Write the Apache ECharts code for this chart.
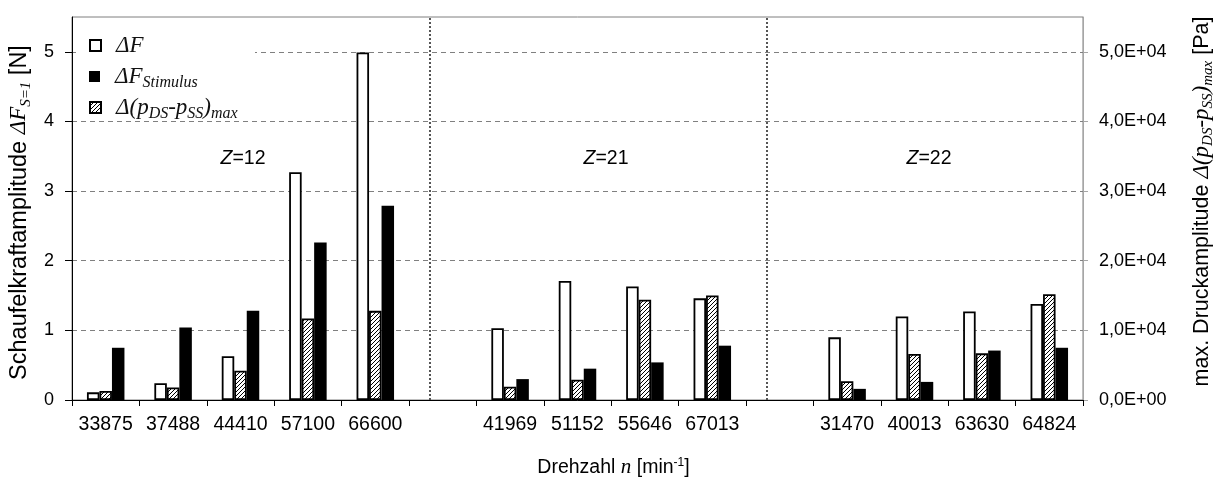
<!DOCTYPE html>
<html>
<head>
<meta charset="utf-8">
<script src="https://cdn.jsdelivr.net/npm/echarts@6/dist/echarts.min.js"></script>
<style>
html, body { margin: 0; padding: 0; background: #fff; }
#chart { width: 1218px; height: 481px; }
</style>
</head>
<body>
<div id="chart"></div>
<script>
// Rotor speeds n [min^-1] per blade count Z
const speedsZ12 = ['33875', '37488', '44410', '57100', '66600'];
const speedsZ21 = ['41969', '51152', '55646', '67013'];
const speedsZ22 = ['31470', '40013', '63630', '64824'];

// Blade force amplitude ΔF [N]
const forceZ12 = [0.11, 0.24, 0.63, 3.27, 4.99];
const forceZ21 = [1.03, 1.71, 1.63, 1.46];
const forceZ22 = [0.90, 1.20, 1.27, 1.38];

// Stimulus force amplitude ΔF_Stimulus [N]
const stimZ12 = [0.75, 1.04, 1.28, 2.26, 2.79];
const stimZ21 = [0.30, 0.45, 0.54, 0.78];
const stimZ22 = [0.16, 0.26, 0.71, 0.75];

// Max. pressure amplitude Δ(p_DS - p_SS)_max [Pa]
const pressZ12 = [1300, 1800, 4200, 11700, 12800];
const pressZ21 = [1900, 2900, 14400, 15000];
const pressZ22 = [2700, 6600, 6700, 15200];

const groupLabels = ['12', '21', '22'];
const leftTicks = [0, 1, 2, 3, 4, 5];
const rightTicks = [0, 10000, 20000, 30000, 40000, 50000];

// one empty slot between the blade-count groups
const gapA = ' ', gapB = '  ';
const categories = [...speedsZ12, gapA, ...speedsZ21, gapB, ...speedsZ22];
const withGaps = (a, b, c) => [...a, null, ...b, null, ...c];
const forceData = withGaps(forceZ12, forceZ21, forceZ22);
const stimData = withGaps(stimZ12, stimZ21, stimZ22);
const pressData = withGaps(pressZ12, pressZ21, pressZ22);

// diagonal hatch fill
function hatchPattern() {
  const s = 4;
  const cv = document.createElement('canvas');
  cv.width = s; cv.height = s;
  const g = cv.getContext('2d');
  g.fillStyle = '#fff';
  g.fillRect(0, 0, s, s);
  g.strokeStyle = '#000';
  g.lineWidth = 1;
  g.beginPath();
  g.moveTo(0, s); g.lineTo(s, 0);
  g.moveTo(-1, 1); g.lineTo(1, -1);
  g.moveTo(s - 1, s + 1); g.lineTo(s + 1, s - 1);
  g.stroke();
  return { image: cv, repeat: 'repeat' };
}

function sci(v) {
  const e = v === 0 ? 0 : Math.floor(Math.log10(Math.abs(v)));
  const m = v / Math.pow(10, e);
  const es = (e < 0 ? '-' : '+') + String(Math.abs(e)).padStart(2, '0');
  return m.toFixed(1).replace('.', ',') + 'E' + es;
}

const SANS = 'Liberation Sans, Arial, sans-serif';
const SERIF = 'Liberation Serif, serif';

const NAME_F = 'ΔF';
const NAME_STIM = 'ΔF Stimulus';
const NAME_P = 'Δ(pDS-pSS)max';

const legendItems = [
  [NAME_F, '{i|ΔF}', 34],
  [NAME_STIM, '{i|ΔF}{s|Stimulus}', 65],
  [NAME_P, '{i|Δ(p}{s|DS}{i|-p}{s|SS}{i|)}{s|max}', 96]
];

const legendRich = {
  i: { fontFamily: SERIF, fontStyle: 'italic', fontSize: 23, lineHeight: 28, verticalAlign: 'middle', color: '#111' },
  s: { fontFamily: SERIF, fontStyle: 'italic', fontSize: 16, lineHeight: 16, verticalAlign: 'bottom', color: '#111' }
};

const titleRich = {
  i: { fontFamily: SERIF, fontStyle: 'italic', fontSize: 23, lineHeight: 28, verticalAlign: 'middle', color: '#000' },
  s: { fontFamily: SERIF, fontStyle: 'italic', fontSize: 15, lineHeight: 15, verticalAlign: 'bottom', color: '#000' }
};

const chart = echarts.init(document.getElementById('chart'), null, { renderer: 'canvas' });

chart.setOption({
  animation: false,
  backgroundColor: '#fff',
  grid: {
    left: 72, right: 135, top: 17, bottom: 81,
    outerBoundsMode: 'none',
    containLabel: false,
    show: true, borderColor: '#7f7f7f', borderWidth: 1, backgroundColor: 'transparent'
  },
  legend: legendItems.map(([name, text, top]) => ({
    orient: 'vertical',
    left: 89, top: top,
    data: [name],
    icon: 'rect',
    itemWidth: 11, itemHeight: 11,
    padding: 0,
    selectedMode: false,
    formatter: () => text,
    textStyle: { color: '#111', padding: [0, 0, 0, 10], rich: legendRich }
  })),
  xAxis: {
    type: 'category',
    data: categories,
    boundaryGap: true,
    axisLine: { lineStyle: { color: '#000', width: 1 } },
    axisTick: { show: true, inside: false, length: 6, alignWithLabel: false, lineStyle: { color: '#000' } },
    axisLabel: { color: '#000', fontFamily: SANS, fontSize: 19.5, margin: 15, interval: 0 },
    splitLine: { show: false },
    name: 'Drehzahl {i|n} [min{sup|-1}]',
    nameLocation: 'middle',
    nameGap: 57,
    nameTextStyle: {
      color: '#000', fontFamily: SANS, fontSize: 19.5, padding: [0, 0, 0, 72],
      rich: {
        i: { fontFamily: SERIF, fontStyle: 'italic', fontSize: 21, color: '#000' },
        sup: { fontFamily: SANS, fontSize: 12, lineHeight: 14, verticalAlign: 'top', color: '#000' }
      }
    }
  },
  yAxis: [
    {
      type: 'value',
      position: 'left',
      min: 0, max: 5.5,
      axisLine: { show: true, lineStyle: { color: '#000', width: 1 } },
      axisTick: { show: true, length: 7, customValues: leftTicks, lineStyle: { color: '#000' } },
      axisLabel: { color: '#000', fontFamily: SANS, fontSize: 18, margin: 18, customValues: leftTicks },
      splitLine: { show: true, lineStyle: { color: '#808080', type: [5, 4], width: 1 } },
      name: 'Schaufelkraftamplitude {i|ΔF}{s|S=1} [N]',
      nameLocation: 'middle',
      nameRotate: 90,
      nameGap: 35,
      nameTextStyle: { color: '#000', fontFamily: SANS, fontSize: 23.5, padding: [0, 8, 0, 0], rich: titleRich }
    },
    {
      type: 'value',
      position: 'right',
      min: 0, max: 55000,
      axisLine: { show: true, lineStyle: { color: '#a6a6a6', width: 1 } },
      axisTick: { show: true, length: 5, customValues: rightTicks, lineStyle: { color: '#a6a6a6' } },
      axisLabel: { color: '#000', fontFamily: SANS, fontSize: 18, margin: 16, customValues: rightTicks, formatter: v => sci(v) },
      splitLine: { show: false },
      name: 'max. Druckamplitude {i|Δ(p}{s|DS}{i|-p}{s|SS}{i|)}{s|max} [Pa]',
      nameLocation: 'middle',
      nameRotate: 90,
      nameGap: 105,
      nameTextStyle: { color: '#000', fontFamily: SANS, fontSize: 21.5, padding: [0, 0, 0, 14], rich: titleRich }
    }
  ],
  series: [
    {
      name: NAME_F,
      type: 'bar',
      yAxisIndex: 0,
      data: forceData,
      barWidth: 12.5,
      barGap: '0%',
      itemStyle: { color: '#fff', borderColor: '#000', borderWidth: 1.8 },
      markLine: {
        silent: true,
        symbol: 'none',
        label: { show: false },
        lineStyle: { color: '#555', type: 'dotted', width: 2 },
        data: [{ xAxis: gapA }, { xAxis: gapB }]
      },
      z: 3
    },
    {
      name: NAME_P,
      type: 'bar',
      yAxisIndex: 1,
      data: pressData,
      barWidth: 12.5,
      barGap: '0%',
      itemStyle: { color: hatchPattern(), borderColor: '#000', borderWidth: 1.8 },
      z: 3
    },
    {
      name: NAME_STIM,
      type: 'bar',
      yAxisIndex: 0,
      data: stimData,
      barWidth: 12.5,
      barGap: '0%',
      itemStyle: { color: '#000', borderColor: '#000', borderWidth: 0 },
      z: 3
    }
  ],
  graphic: [
    // white panel behind the legend, hiding the top grid line there
    {
      type: 'rect',
      z: 3,
      shape: { x: 76, y: 27, width: 179, height: 93 },
      style: { fill: '#fff' },
      silent: true
    },
    ...[[243, groupLabels[0]], [606, groupLabels[1]], [929, groupLabels[2]]].map(([x, z]) => ({
      type: 'text',
      x: x, y: 159,
      z: 5,
      style: {
        text: '{z|Z}=' + z,
        fontFamily: SANS, fontSize: 19.5, fill: '#000',
        align: 'center', verticalAlign: 'middle',
        rich: { z: { fontFamily: SANS, fontStyle: 'italic', fontSize: 19.5, fill: '#000' } }
      }
    }))
  ]
});
</script>
</body>
</html>
